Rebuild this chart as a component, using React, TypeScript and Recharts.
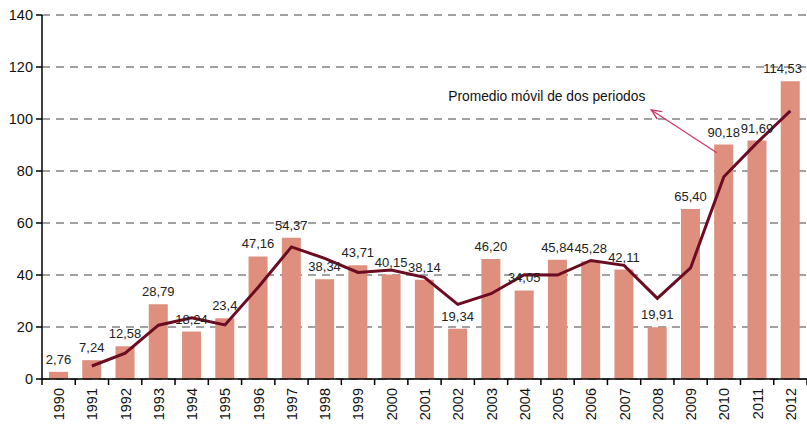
import {
  Bar,
  CartesianGrid,
  ComposedChart,
  LabelList,
  Line,
  ReferenceLine,
  XAxis,
  YAxis,
} from "recharts";

const years = [
  "1990", "1991", "1992", "1993", "1994", "1995", "1996", "1997", "1998", "1999", "2000", "2001",
  "2002", "2003", "2004", "2005", "2006", "2007", "2008", "2009", "2010", "2011", "2012",
];

const values = [
  2.76, 7.24, 12.58, 28.79, 18.24, 23.4, 47.16, 54.37, 38.34, 43.71, 40.15, 38.14,
  19.34, 46.2, 34.05, 45.84, 45.28, 42.11, 19.91, 65.4, 90.18, 91.69, 114.53,
];

const valueLabels = [
  "2,76", "7,24", "12,58", "28,79", "18,24", "23,4", "47,16", "54,37", "38,34", "43,71", "40,15", "38,14",
  "19,34", "46,20", "34,05", "45,84", "45,28", "42,11", "19,91", "65,40", "90,18", "91,69", "114,53",
];

// moving average of two periods
const movingAvg = [
  null, 5.0, 9.91, 20.69, 23.5, 20.8, 35.3, 50.8, 46.4, 41.0, 41.9, 39.1,
  28.7, 32.8, 40.1, 40.0, 45.6, 43.7, 31.0, 42.7, 77.8, 90.9, 103.1,
];

const yTicks = [0, 20, 40, 60, 80, 100, 120, 140];

const annotation = "Promedio móvil de dos periodos";

const data = years.map((year, i) => ({
  year,
  value: values[i],
  label: valueLabels[i],
  ma: movingAvg[i],
}));

const FONT = "'Liberation Sans', Arial, sans-serif";
const WIDTH = 807;
const BAND = 765 / years.length;

const YearTick = (props: any) => {
  const { x, y, payload, index } = props;
  const last = index === years.length - 1;
  return (
    <g>
      <line x1={x - BAND / 2} y1={y - 8} x2={x - BAND / 2} y2={y - 2} stroke="#000" strokeWidth={1.5} />
      {last && (
        <line x1={x + BAND / 2} y1={y - 8} x2={x + BAND / 2} y2={y - 2} stroke="#000" strokeWidth={1.5} />
      )}
      <text
        x={0}
        y={0}
        transform={`translate(${x + 5.5},${y + 1}) rotate(-90)`}
        textAnchor="end"
        fontSize={14.5}
        fontFamily={FONT}
        fill="#111"
      >
        {payload.value}
      </text>
    </g>
  );
};

// value label above the bar, nudged inward if it would run past the right edge
const ValueLabel = (props: any) => {
  const { x, y, width, value } = props;
  const approxW = String(value).length * 6.8;
  let cx = x + width / 2;
  if (cx + approxW / 2 > WIDTH - 4) cx = WIDTH - 4 - approxW / 2;
  return (
    <text x={cx} y={y - 8} textAnchor="middle" fontSize={13} fontFamily={FONT} fill="#222">
      {value}
    </text>
  );
};

const ArrowShape = (props: any) => {
  const { x1, y1, x2, y2 } = props;
  if (x1 == null) return null;
  // arrow runs from the 2010 bar (right, lower) up to the caption (left, higher)
  const rightFirst = x1 > x2;
  const sx = (rightFirst ? x1 : x2) - 7;
  const sy = rightFirst ? y1 : y2;
  const ex = (rightFirst ? x2 : x1) - 6;
  const ey = rightFirst ? y2 : y1;
  const ang = Math.atan2(ey - sy, ex - sx);
  const len = 11;
  const spread = 0.42;
  return (
    <g>
      <line x1={sx} y1={sy} x2={ex} y2={ey} stroke="#D6336C" strokeWidth={1.2} />
      <polyline
        points={`${ex - len * Math.cos(ang - spread)},${ey - len * Math.sin(ang - spread)} ${ex},${ey} ${ex - len * Math.cos(ang + spread)},${ey - len * Math.sin(ang + spread)}`}
        fill="none"
        stroke="#D6336C"
        strokeWidth={1.4}
      />
      <text x={ex - 6} y={ey - 9} textAnchor="end" fontSize={13.8} fontFamily={FONT} fill="#111">
        {annotation}
      </text>
    </g>
  );
};

export default function App() {
  return (
    <div style={{ width: WIDTH, height: 424, background: "#fff" }}>
      <style>{`body { margin: 0; }`}</style>
      <ComposedChart
        width={WIDTH}
        height={424}
        data={data}
        margin={{ top: 15, right: 0, left: 0, bottom: 0 }}
        barCategoryGap={0}
      >
        <CartesianGrid
          vertical={false}
          stroke="#444"
          strokeDasharray="8 6"
          strokeWidth={1}
        />
        <XAxis
          dataKey="year"
          height={45}
          tickLine={false}
          axisLine={{ stroke: "#000", strokeWidth: 1.5 }}
          interval={0}
          tick={<YearTick />}
        />
        <YAxis
          width={42}
          domain={[0, 140]}
          ticks={yTicks}
          interval={0}
          tickSize={6}
          tickMargin={3}
          axisLine={{ stroke: "#000", strokeWidth: 1.5 }}
          tickLine={{ stroke: "#000", strokeWidth: 1.5 }}
          tick={{ fontSize: 14.5, fontFamily: FONT, fill: "#111" }}
        />
        <Bar dataKey="value" fill="#DE8F7E" barSize={19} isAnimationActive={false}>
          <LabelList dataKey="label" content={<ValueLabel />} />
        </Bar>
        <Line
          dataKey="ma"
          type="linear"
          stroke="#6B0C22"
          strokeWidth={3}
          dot={false}
          activeDot={false}
          connectNulls
          isAnimationActive={false}
        />
        <ReferenceLine
          segment={[
            { x: "2008", y: 103.5 },
            { x: "2010", y: 87 },
          ]}
          shape={<ArrowShape />}
        />
      </ComposedChart>
    </div>
  );
}
